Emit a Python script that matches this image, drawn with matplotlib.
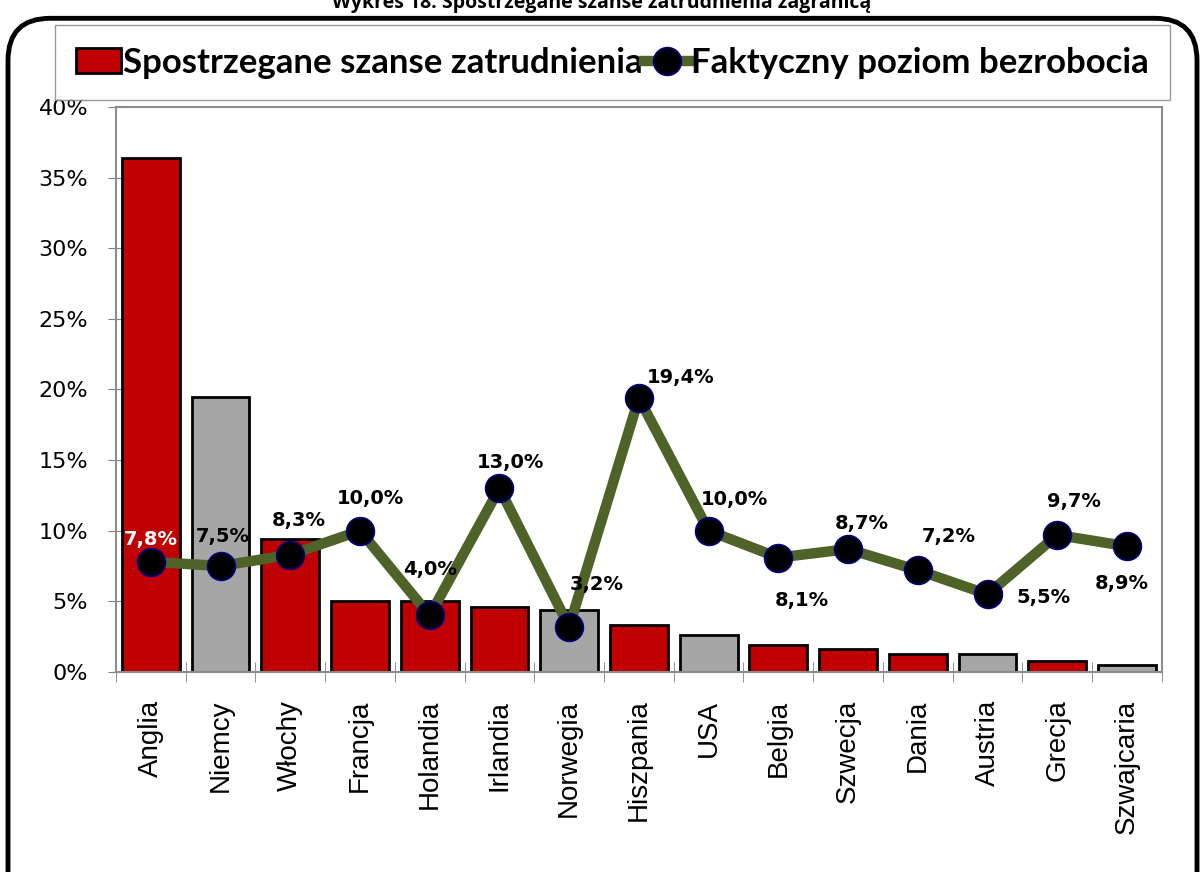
import matplotlib.pyplot as plt
from matplotlib.patches import FancyBboxPatch
from matplotlib.ticker import FixedLocator, FuncFormatter

kraje = ['Anglia', 'Niemcy', 'Włochy', 'Francja', 'Holandia', 'Irlandia', 'Norwegia',
         'Hiszpania', 'USA', 'Belgia', 'Szwecja', 'Dania', 'Austria', 'Grecja', 'Szwajcaria']
szanse = [36.4, 19.5, 9.4, 5.0, 5.0, 4.6, 4.4, 3.3, 2.6, 1.9, 1.6, 1.3, 1.3, 0.8, 0.5]
bezrobocie = [7.8, 7.5, 8.3, 10.0, 4.0, 13.0, 3.2, 19.4, 10.0, 8.1, 8.7, 7.2, 5.5, 9.7, 8.9]
# kraje spoza UE zaznaczone na szaro
poza_ue = ['Niemcy', 'Norwegia', 'USA', 'Austria', 'Szwajcaria']

# przesuniecia etykiet (piksele) wzgledem punktow
przesuniecia = [(0, 22), (2, 30), (8, 34), (10, 32), (0, 46), (11, 26), (28, 42), (42, 20),
                (26, 31), (23, -43), (14, 26), (31, 34), (56, -3), (17, 33), (-5, -37)]

czerwony = '#C00000'
szary = '#A6A6A6'
oliwka = '#4F6228'

fig = plt.figure(figsize=(12.04, 8.72), dpi=100)
ax = fig.add_axes([0.0963, 0.2294, 0.8687, 0.6479])

x = list(range(len(kraje)))
kolory = [szary if k in poza_ue else czerwony for k in kraje]
slupki = ax.bar(x, szanse, width=0.83, color=kolory, edgecolor='black', linewidth=2, zorder=2)
linia, = ax.plot(x, bezrobocie, color=oliwka, linewidth=7.5, marker='o', markersize=20,
                 markerfacecolor='black', markeredgecolor='#000080', markeredgewidth=1.2,
                 zorder=3)

for i, (v, off) in enumerate(zip(bezrobocie, przesuniecia)):
    ax.annotate(f'{v:.1f}%'.replace('.', ','), (i, v), xytext=off,
                textcoords='offset pixels', ha='center', va='center',
                fontsize=14, fontweight='bold',
                color='white' if i == 0 else 'black', zorder=4)

ax.set_xlim(-0.5, len(kraje) - 0.5)
ax.set_ylim(0, 40)
ax.set_yticks(range(0, 41, 5))
ax.yaxis.set_major_formatter(FuncFormatter(lambda v, p: f'{v:.0f}%'))
ax.set_xticks(x)
ax.set_xticklabels(kraje, rotation=90, fontsize=20, family='Liberation Sans')
ax.xaxis.set_minor_locator(FixedLocator([i - 0.5 for i in range(len(kraje) + 1)]))
ax.tick_params(axis='x', which='major', length=0, pad=20)
ax.tick_params(axis='x', which='minor', direction='inout', length=14, color='#808080')
ax.tick_params(axis='y', direction='inout', length=12, color='#808080', labelsize=16, pad=14)
for s in ax.spines.values():
    s.set_color('#8c8c8c')
    s.set_linewidth(1.5)

leg = fig.legend([slupki[0], linia], ['Spostrzegane szanse zatrudnienia', 'Faktyczny poziom bezrobocia'],
                 loc='center', bbox_to_anchor=(0.5087, 0.928), ncol=2, frameon=True,
                 fancybox=False, edgecolor='#808080', columnspacing=0.05, handletextpad=0.05,
                 handlelength=1.3, borderpad=0.62,
                 prop={'family': 'Lato', 'weight': 'bold', 'size': 25})
leg.get_frame().set_linewidth(1)
leg.legend_handles[0].set_facecolor(czerwony)

# zaokraglona ramka wokol calego wykresu
ramka = FancyBboxPatch((8 / 1204, -0.05), 1189 / 1204, 0.979 + 0.05,
                       boxstyle='round,pad=0,rounding_size=0.035', transform=fig.transFigure,
                       facecolor='none', edgecolor='black', linewidth=3.5,
                       mutation_aspect=1204 / 872)
fig.patches.append(ramka)

fig.text(0.5, 0.997, 'Wykres 18. Spostrzegane szanse zatrudnienia zagranicą', ha='center',
         va='center', fontsize=14, fontweight='bold', family='Open Sans')

fig.savefig('out.png', dpi=100)
